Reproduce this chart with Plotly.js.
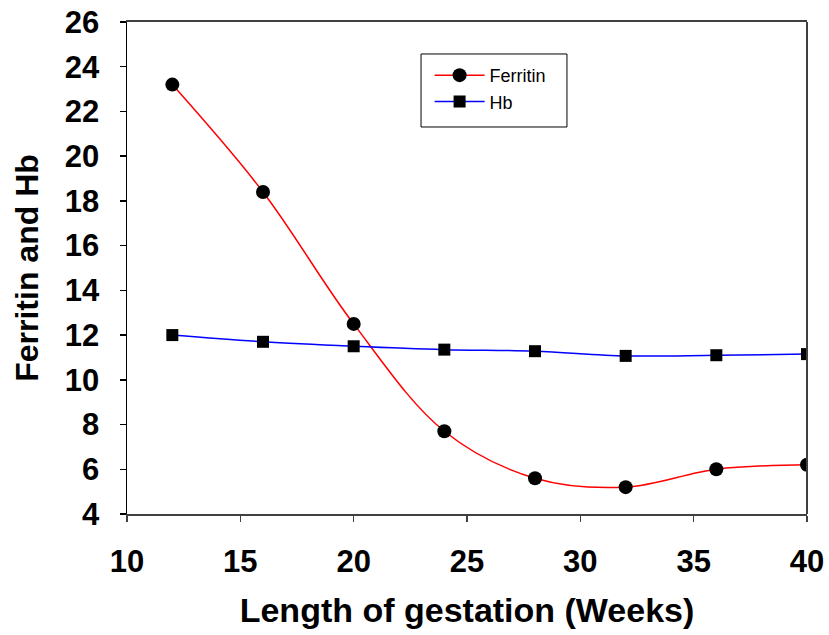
<!DOCTYPE html>
<html>
<head>
<meta charset="utf-8">
<script src="https://cdn.plot.ly/plotly-3.0.1.min.js"></script>
<style>html,body{margin:0;padding:0;background:#fff;}#chart{width:829px;height:635px;}</style>
</head>
<body>
<div id="chart"></div>
<script>
const weeks = [12, 16, 20, 24, 28, 32, 36, 40];
const ferritin = [23.2, 18.4, 12.5, 7.7, 5.6, 5.2, 6.0, 6.2];
const hb = [12.0, 11.7, 11.5, 11.35, 11.28, 11.07, 11.1, 11.15];
const seriesNames = ['Ferritin', 'Hb'];

const traces = [
  {
    x: weeks, y: ferritin, name: seriesNames[0], type: 'scatter', mode: 'lines+markers',
    line: {color: '#ff0000', width: 1.5, shape: 'spline', smoothing: 1},
    marker: {symbol: 'circle', size: 14, color: '#000000'}
  },
  {
    x: weeks, y: hb, name: seriesNames[1], type: 'scatter', mode: 'lines+markers',
    line: {color: '#0000ff', width: 1.5, shape: 'spline', smoothing: 1},
    marker: {symbol: 'square', size: 12, color: '#000000'}
  }
];

const fam = 'Liberation Sans, Arial, sans-serif';

const layout = {
  width: 829, height: 635,
  margin: {l: 127, r: 22, t: 22, b: 121},
  paper_bgcolor: '#fff', plot_bgcolor: '#fff',
  showlegend: true,
  legend: {
    x: 0.445, y: 0.929, xanchor: 'left', yanchor: 'top',
    bgcolor: 'rgba(0,0,0,0)', borderwidth: 0,
    font: {family: fam, size: 18, color: '#000'},
    itemwidth: 50,
    traceorder: 'normal'
  },
  xaxis: {
    range: [10, 40], tickmode: 'linear', tick0: 10, dtick: 5,
    showgrid: false, zeroline: false,
    showline: true, linecolor: '#404040', linewidth: 2, mirror: true,
    ticks: 'outside', ticklen: 6, tickcolor: '#404040', tickwidth: 1.5,
    ticklabelstandoff: 13,
    tickfont: {family: fam, size: 31, color: '#000', weight: 'bold'},
    title: {text: '<b>Length of gestation (Weeks)</b>', font: {family: fam, size: 34, color: '#000'}, standoff: 20}
  },
  yaxis: {
    range: [4, 26], tickmode: 'linear', tick0: 4, dtick: 2,
    showgrid: false, zeroline: false,
    showline: true, linecolor: '#000', linewidth: 1.5,
    ticks: 'outside', ticklen: 6, tickcolor: '#000', tickwidth: 1.5,
    ticklabelstandoff: 14,
    tickfont: {family: fam, size: 31, color: '#000', weight: 'bold'},
    title: {text: '<b>Ferritin and Hb</b>', font: {family: fam, size: 32, color: '#000'}, standoff: 16}
  },
  shapes: [
    {type: 'line', xref: 'paper', yref: 'paper', x0: 1, x1: 1, y0: 0, y1: 1,
     line: {color: '#404040', width: 2}},
    {type: 'rect', xref: 'paper', yref: 'paper', x0: 0.4324, x1: 0.647, y0: 0.7866, y1: 0.935,
     line: {color: '#000', width: 1}}
  ]
};

Plotly.newPlot('chart', traces, layout, {displayModeBar: false, staticPlot: true});
</script>
</body>
</html>
